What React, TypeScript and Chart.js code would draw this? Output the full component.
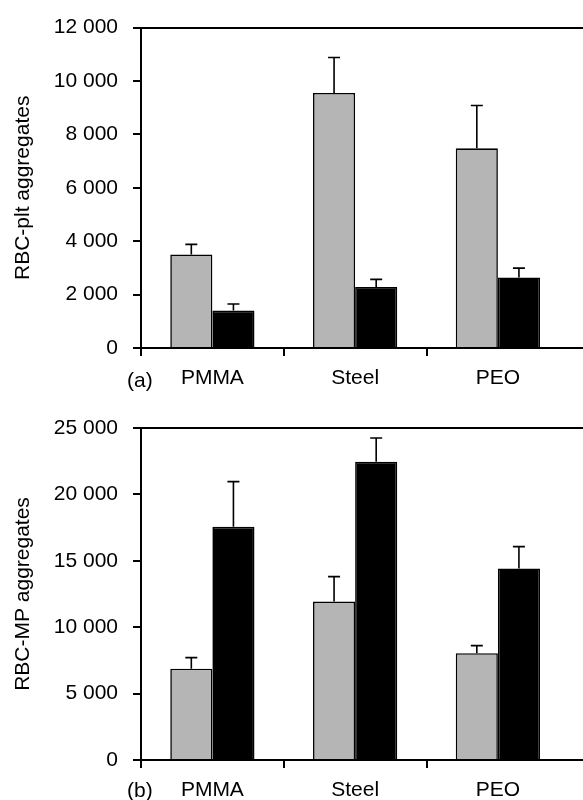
import React, { useEffect, useRef } from 'react';
import { Chart, registerables } from 'chart.js';

Chart.register(...registerables);

const FONT = 'Liberation Sans, Arial, Helvetica, sans-serif';

// Categories (last one is a blank spacer so the axis lines run to the edge)
const categories = ['PMMA', 'Steel', 'PEO', ''];

// Panel (a): RBC-plt aggregates
const pltGray = [3500, 9550, 7480];
const pltGrayErr = [380, 1330, 1600];
const pltBlack = [1400, 2280, 2640];
const pltBlackErr = [250, 290, 350];
const pltTicks = [0, 2000, 4000, 6000, 8000, 10000, 12000];

// Panel (b): RBC-MP aggregates
const mpGray = [6880, 11930, 8040];
const mpGrayErr = [830, 1880, 575];
const mpBlack = [17560, 22460, 14420];
const mpBlackErr = [3400, 1790, 1650];
const mpTicks = [0, 5000, 10000, 15000, 20000, 25000];

const fmt = (v: number) =>
  v >= 1000 ? `${Math.floor(v / 1000)} ${String(v % 1000).padStart(3, '0')}` : String(v);

const errorBarPlugin = {
  id: 'errorBars',
  afterDatasetsDraw(chart: any) {
    const ctx = chart.ctx;
    const y = chart.scales.y;
    chart.data.datasets.forEach((ds: any, di: number) => {
      const meta = chart.getDatasetMeta(di);
      const errs = ds.errors as number[];
      meta.data.forEach((bar: any, i: number) => {
        const v = ds.data[i];
        const e = errs ? errs[i] : undefined;
        if (v == null || e == null) return;
        const base = y.getPixelForValue(v);
        const top = y.getPixelForValue(v + e);
        ctx.save();
        ctx.strokeStyle = '#000';
        ctx.lineWidth = 1.6;
        ctx.beginPath();
        ctx.moveTo(bar.x, base);
        ctx.lineTo(bar.x, top);
        ctx.moveTo(bar.x - 6, top);
        ctx.lineTo(bar.x + 6, top);
        ctx.stroke();
        ctx.restore();
      });
    });
  },
};

const realCount = categories.filter((c) => c !== '').length;

function makeConfig(
  gray: number[],
  grayErr: number[],
  black: number[],
  blackErr: number[],
  ticks: number[],
  title: string,
  padTop: number,
  xHeight: number
): any {
  const max = ticks[ticks.length - 1];
  return {
    type: 'bar',
    data: {
      labels: categories,
      datasets: [
        {
          data: gray,
          errors: grayErr,
          backgroundColor: '#b5b5b5',
          borderColor: '#000',
          borderWidth: 1.6,
          borderSkipped: 'bottom',
          categoryPercentage: 0.59,
          barPercentage: 1,
        },
        {
          data: black,
          errors: blackErr,
          backgroundColor: '#000',
          borderColor: '#000',
          borderWidth: 1.6,
          borderSkipped: 'bottom',
          categoryPercentage: 0.59,
          barPercentage: 1,
        },
      ],
    },
    options: {
      responsive: false,
      animation: false,
      events: [],
      layout: { padding: { top: padTop, left: 0, right: 0, bottom: 0 } },
      plugins: { legend: { display: false }, tooltip: { enabled: false } },
      scales: {
        x: {
          type: 'category',
          offset: true,
          grid: {
            offset: true,
            drawOnChartArea: false,
            drawTicks: true,
            tickLength: 8,
            tickColor: (c: any) => (c.index >= realCount ? 'rgba(0,0,0,0)' : '#000'),
            tickWidth: 2,
            lineWidth: 2,
            color: '#000',
          },
          border: { display: true, color: '#000', width: 2 },
          ticks: {
            color: '#000',
            font: { family: FONT, size: 21 },
            padding: 10,
            maxRotation: 0,
            autoSkip: false,
          },
          afterFit: (s: any) => {
            s.height = xHeight;
          },
        },
        y: {
          min: 0,
          max,
          afterBuildTicks: (s: any) => {
            s.ticks = ticks.map((v) => ({ value: v }));
          },
          grid: {
            color: (c: any) => (c.tick && c.tick.value === max ? '#000' : 'rgba(0,0,0,0)'),
            lineWidth: 2,
            drawTicks: true,
            tickLength: 8,
            tickColor: '#000',
            tickWidth: 2,
          },
          border: { display: true, color: '#000', width: 2 },
          ticks: {
            color: '#000',
            font: { family: FONT, size: 21 },
            padding: 15,
            callback: (v: any) => fmt(Number(v)),
          },
          title: {
            display: true,
            text: title,
            color: '#000',
            font: { family: FONT, size: 21 },
            padding: { top: 11, bottom: 0 },
          },
          afterFit: (s: any) => {
            s.width = 141;
          },
        },
      },
    },
    plugins: [errorBarPlugin],
  };
}

function Panel(props: { config: any }) {
  const ref = useRef<HTMLCanvasElement | null>(null);
  useEffect(() => {
    if (!ref.current) return;
    const chart = new Chart(ref.current, props.config);
    return () => chart.destroy();
  }, []);
  return (
    <canvas
      ref={ref}
      width={712}
      height={400}
      style={{ display: 'block', width: 712, height: 400 }}
    />
  );
}

export default function App() {
  const cfgA = makeConfig(pltGray, pltGrayErr, pltBlack, pltBlackErr, pltTicks, 'RBC-plt aggregates', 20, 52);
  const cfgB = makeConfig(mpGray, mpGrayErr, mpBlack, mpBlackErr, mpTicks, 'RBC-MP aggregates', 28, 40);
  const labelStyle: React.CSSProperties = {
    position: 'absolute',
    left: 127,
    fontFamily: FONT,
    fontSize: 21,
    lineHeight: '21px',
    color: '#000',
  };
  return (
    <div
      style={{
        position: 'absolute',
        left: 0,
        top: 0,
        width: 583,
        height: 800,
        overflow: 'hidden',
        background: '#fff',
      }}
    >
      <Panel config={cfgA} />
      <Panel config={cfgB} />
      <span style={{ ...labelStyle, top: 369 }}>(a)</span>
      <span style={{ ...labelStyle, top: 779 }}>(b)</span>
    </div>
  );
}
